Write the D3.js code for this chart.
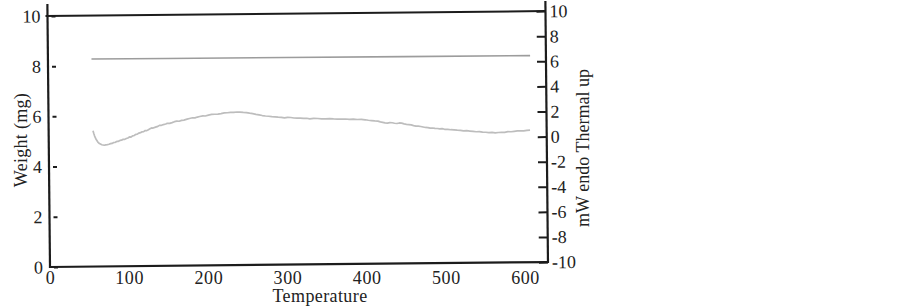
<!DOCTYPE html>
<html>
<head>
<meta charset="utf-8">
<script src="https://cdn.jsdelivr.net/npm/d3@7/dist/d3.min.js"></script>
<style>
  html, body { margin: 0; padding: 0; background: #fff; }
  svg { display: block; }
  text { font-family: "Liberation Serif", "DejaVu Serif", serif; fill: #222; }
</style>
</head>
<body>
<svg id="chart" width="902" height="307"></svg>
<script>
// ---- data ----
const xTicks = [0, 100, 200, 300, 400, 500, 600];
const leftTicks = [0, 2, 4, 6, 8, 10];
const rightTicks = [-10, -8, -6, -4, -2, 0, 2, 4, 6, 8, 10];

const weightTemps = [55, 150, 300, 450, 609];
const weightValues = [8.27, 8.26, 8.25, 8.24, 8.23];

const dscTemps = [56, 57, 58, 60, 62, 64, 67, 70, 72, 74, 76, 78, 80, 82, 84, 86, 88, 90, 92, 94,
  96, 98, 100, 102, 104, 106, 108, 110, 112, 114, 116, 118, 120, 122, 124, 126, 128, 130, 132, 135,
  138, 140, 142, 145, 148, 150, 153, 156, 159, 162, 165, 168, 171, 175, 178, 182, 185, 188, 191, 195,
  198, 202, 206, 210, 214, 218, 222, 226, 230, 234, 238, 242, 246, 250, 254, 258, 262, 266, 270, 274,
  278, 282, 286, 290, 294, 298, 302, 306, 310, 314, 318, 322, 326, 330, 335, 340, 345, 350, 355, 360,
  365, 370, 375, 380, 385, 390, 395, 400, 404, 408, 412, 416, 419, 422, 425, 428, 431, 434, 437, 440,
  443, 446, 449, 452, 455, 458, 461, 464, 467, 470, 473, 476, 479, 482, 485, 488, 491, 494, 497, 500,
  504, 508, 512, 516, 520, 524, 528, 532, 536, 540, 544, 548, 552, 556, 560, 564, 568, 572, 576, 580,
  584, 588, 592, 596, 600, 604, 608];
const dscValues = [0.83, 0.6, 0.4, 0.12, -0.08, -0.2, -0.3, -0.34, -0.31, -0.3, -0.27, -0.22, -0.2, -0.13, -0.12, -0.05, -0.04, 0.03, 0.05, 0.12,
  0.11, 0.18, 0.22, 0.3, 0.29, 0.38, 0.41, 0.5, 0.52, 0.6, 0.63, 0.7, 0.71, 0.8, 0.79, 0.86, 0.93, 1.0, 0.99, 1.06,
  1.12, 1.2, 1.19, 1.26, 1.3, 1.36, 1.35, 1.41, 1.48, 1.52, 1.51, 1.58, 1.6, 1.67, 1.72, 1.78, 1.77, 1.83, 1.87, 1.92,
  1.91, 1.98, 2.03, 2.04, 2.05, 2.09, 2.14, 2.15, 2.18, 2.17, 2.2, 2.19, 2.16, 2.15, 2.1, 2.06, 2.0, 1.95, 1.9, 1.86,
  1.84, 1.8, 1.79, 1.76, 1.74, 1.7, 1.73, 1.72, 1.68, 1.67, 1.66, 1.64, 1.65, 1.6, 1.63, 1.62, 1.58, 1.58, 1.6, 1.57,
  1.56, 1.55, 1.56, 1.53, 1.54, 1.51, 1.52, 1.48, 1.44, 1.41, 1.38, 1.36, 1.3, 1.26, 1.22, 1.2, 1.24, 1.22, 1.18, 1.16,
  1.2, 1.18, 1.12, 1.08, 1.06, 1.04, 0.98, 0.94, 0.93, 0.9, 0.86, 0.82, 0.8, 0.76, 0.77, 0.74, 0.73, 0.7, 0.71, 0.66,
  0.65, 0.62, 0.61, 0.58, 0.56, 0.52, 0.53, 0.5, 0.47, 0.44, 0.45, 0.4, 0.39, 0.36, 0.37, 0.33, 0.36, 0.38, 0.37, 0.42,
  0.41, 0.44, 0.47, 0.48, 0.47, 0.51, 0.53];

// ---- layout ----
const svg = d3.select("#chart");
const L = 50, R = 548, T = 16, B = 267;
const fmt = d => String(d);

const x = d3.scaleLinear().domain([0, 629]).range([L, R]);
const yL = d3.scaleLinear().domain([0, 10]).range([B, T]);
const yR = d3.scaleLinear().domain([-10, 10]).range([B, T]);

const plot = svg.append("g").attr("transform", `rotate(-0.57, ${L}, ${B})`);

// curves
const weightLine = d3.line().x((d, i) => x(weightTemps[i])).y(d => yL(d));
plot.append("path").datum(weightValues)
  .attr("d", weightLine).attr("fill", "none")
  .attr("stroke", "#9c9c9c").attr("stroke-width", 1.6);

const dscLine = d3.line().x((d, i) => x(dscTemps[i])).y(d => yR(d)).curve(d3.curveLinear);
plot.append("path").datum(dscValues)
  .attr("d", dscLine).attr("fill", "none")
  .attr("stroke", "#bdbdbd").attr("stroke-width", 1.7).attr("stroke-linejoin", "round");

// frame
const frameColor = "#1c1c1c";
plot.append("line").attr("x1", L - 2).attr("x2", R).attr("y1", T).attr("y2", T)
  .attr("stroke", frameColor).attr("stroke-width", 2);
plot.append("line").attr("x1", L).attr("x2", R).attr("y1", B).attr("y2", B)
  .attr("stroke", frameColor).attr("stroke-width", 2.2);

// left axis
const leftAxis = plot.append("g").attr("transform", `translate(${L},0)`)
  .call(d3.axisLeft(yL).tickValues(leftTicks).tickSize(-8).tickPadding(7).tickFormat(fmt));
leftAxis.select(".domain").remove();
leftAxis.selectAll(".tick line").attr("x1", 4).attr("stroke", frameColor).attr("stroke-width", 2);
leftAxis.selectAll(".tick text").attr("font-size", 18).attr("font-family", "Liberation Serif").attr("fill", "#222");
plot.append("line").attr("x1", L).attr("x2", L).attr("y1", T - 12).attr("y2", B + 1)
  .attr("stroke", frameColor).attr("stroke-width", 2.2);

// right axis
const rightAxis = plot.append("g").attr("transform", `translate(${R},0)`)
  .call(d3.axisRight(yR).tickValues(rightTicks).tickSize(-9).tickPadding(4).tickFormat(fmt));
rightAxis.select(".domain").remove();
rightAxis.selectAll(".tick line").attr("stroke", frameColor).attr("stroke-width", 2);
rightAxis.selectAll(".tick text").attr("font-size", 18).attr("font-family", "Liberation Serif").attr("fill", "#222");
plot.append("line").attr("x1", R).attr("x2", R).attr("y1", T - 10).attr("y2", B + 1)
  .attr("stroke", frameColor).attr("stroke-width", 2.2);

// bottom axis labels (unrotated)
const bottomAxis = svg.append("g").attr("transform", `translate(0,${B})`)
  .call(d3.axisBottom(x).tickValues(xTicks).tickSize(0).tickPadding(4).tickFormat(fmt));
bottomAxis.select(".domain").remove();
bottomAxis.selectAll(".tick text").attr("font-size", 18).attr("font-family", "Liberation Serif")
  .attr("fill", "#222").attr("letter-spacing", "0.6px");

// axis titles
svg.append("text").attr("x", 320).attr("y", 302).attr("text-anchor", "middle")
  .attr("font-size", 18).attr("letter-spacing", "0.4px").text("Temperature");
svg.append("text").attr("transform", "translate(21,140) rotate(-90)")
  .attr("text-anchor", "middle").attr("dominant-baseline", "central")
  .attr("font-size", 18).attr("letter-spacing", "0.3px").text("Weight (mg)");
svg.append("text").attr("transform", "translate(583,148) rotate(-90)")
  .attr("text-anchor", "middle").attr("dominant-baseline", "central")
  .attr("font-size", 18).text("mW endo Thermal up");
</script>
</body>
</html>
